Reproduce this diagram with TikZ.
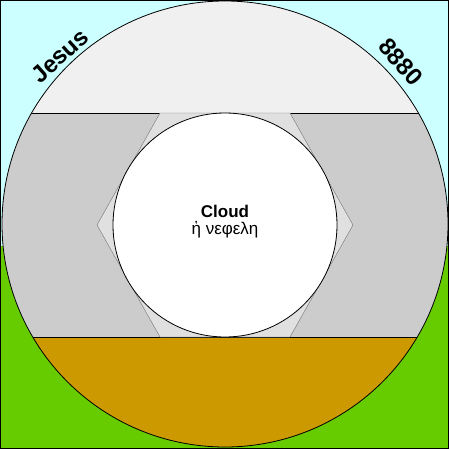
\documentclass[tikz,border=0pt]{standalone}
\usepackage{fontspec}
\setmainfont{Liberation Sans}
\usepackage{tikz}
\usetikzlibrary{positioning}
\definecolor{sky}{HTML}{CCFFFF}
\definecolor{grass}{HTML}{66CC00}
\definecolor{earth}{HTML}{CC9900}
\definecolor{band}{HTML}{CCCCCC}
\definecolor{mist}{HTML}{F0F0F0}
\definecolor{haze}{HTML}{E0E0E0}
\tikzstyle{lbl}=[font=\fontsize{24}{24}\selectfont\bfseries,
                inner sep=0pt]
\tikzstyle{ttl}=[font=\fontsize{17}{17}\selectfont\bfseries,
                inner sep=0pt]
\tikzstyle{sub}=[font=\fontsize{17}{17}\selectfont,
                inner sep=0pt]

\begin{document}
\begin{tikzpicture}[x=1pt,y=-1pt,semithick]
\useasboundingbox (0,0) rectangle (450,450);

% sky and ground
\fill[sky] (0,0) rectangle (448,246);
\fill[grass] (0,246) rectangle (448,448);

% layers inside the big circle
\begin{scope}
\clip (225,224) circle (223);
\fill[mist] (0,0) rectangle (450,113);
\fill[band] (0,113) rectangle (450,337);
\fill[earth] (0,337) rectangle (450,450);
\draw[black,thin] (0,113) -- (450,113);
\draw[black,thin] (0,337) -- (450,337);
\end{scope}

% hexagon round the cloud
\filldraw[fill=haze,draw=black!55,thin]
  (160,113) -- (97,225) -- (160,337) -- (290,337) -- (353,225) -- (290,113) -- cycle;

% cloud
\filldraw[fill=white,draw=black,thick] (225,225) circle (112);

% big circle and frame
\draw[black,thick] (225,224) circle (223);
\draw[black,thick] (0.5,0.5) rectangle (448,448);

% texts
\node[lbl, rotate=42]  (jesus) at (60,56)  {Jesus};
\node[lbl, rotate=-48] (num)   at (401,62) {8880};
\node[ttl] (cloud) at (225,211) {Cloud};
\node[sub] (nephele) [below=4pt of cloud] {ἡ νεφελη};

\end{tikzpicture}
\end{document}
